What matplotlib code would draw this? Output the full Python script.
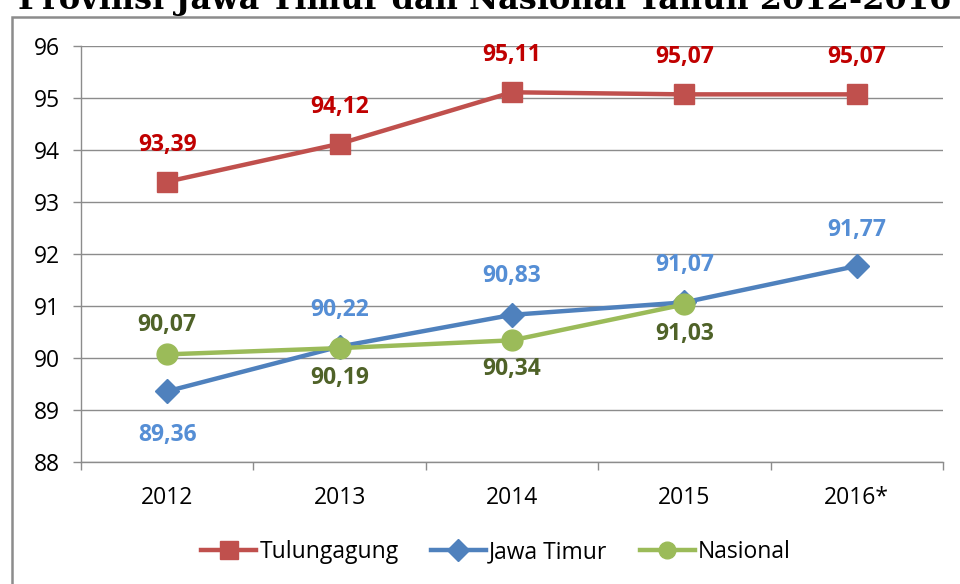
import matplotlib.pyplot as plt
from matplotlib.lines import Line2D
from matplotlib.patches import Rectangle

years = ['2012', '2013', '2014', '2015', '2016*']
tulungagung = [93.39, 94.12, 95.11, 95.07, 95.07]
jawa_timur = [89.36, 90.22, 90.83, 91.07, 91.77]
nasional = [90.07, 90.19, 90.34, 91.03]

tul_lbl = ['93,39', '94,12', '95,11', '95,07', '95,07']
jt_lbl = ['89,36', '90,22', '90,83', '91,07', '91,77']
nas_lbl = ['90,07', '90,19', '90,34', '91,03']

plt.rcParams['font.family'] = ['Open Sans', 'DejaVu Sans']

W, H = 960, 584
fig = plt.figure(figsize=(9.6, 5.84), dpi=100)
ax = fig.add_axes([81 / W, 1 - 462 / H, (943 - 81) / W, (462 - 46) / H])

# chart box border (partly off-canvas)
fig.patches.append(Rectangle((12 / W, -0.1), 1.2, 1.1 - 17 / H, transform=fig.transFigure,
                             fill=False, edgecolor='#8c8c8c', linewidth=1.8))

fig.text(485 / W, 1 - 9 / H, 'Provinsi Jawa Timur dan Nasional Tahun 2012-2016',
         ha='center', va='baseline', fontsize=23, fontweight='bold', family='DejaVu Serif')

x = list(range(len(years)))
ax.plot(x, tulungagung, color='#C0504D', lw=3.2, marker='s', ms=14,
        label='Tulungagung', zorder=3)
ax.plot(x, jawa_timur, color='#4F81BD', lw=3.2, marker='D', ms=12,
        label='Jawa Timur', zorder=4)
ax.plot(x[:len(nasional)], nasional, color='#9BBB59', lw=3.2, marker='o', ms=15,
        label='Nasional', zorder=5)

lab_kw = dict(textcoords='offset pixels', ha='center', va='center',
              fontsize=16.5, fontweight='bold')
for i, v in enumerate(tulungagung):
    ax.annotate(tul_lbl[i], (i, v), xytext=(0, 37), color='#C00000', **lab_kw)
jt_off = [-44, 37, 39, 37, 36]
for i, v in enumerate(jawa_timur):
    ax.annotate(jt_lbl[i], (i, v), xytext=(0, jt_off[i]), color='#558ED5', **lab_kw)
nas_off = [29, -30, -29, -30]
for i, v in enumerate(nasional):
    ax.annotate(nas_lbl[i], (i, v), xytext=(0, nas_off[i]), color='#4F6228', **lab_kw)

ax.set_xlim(-0.5, 4.5)
ax.set_ylim(88, 96)
ax.set_yticks(range(88, 97))
ax.grid(axis='y', color='#8c8c8c', lw=1)
ax.set_axisbelow(True)

ax.set_xticks([-0.5, 0.5, 1.5, 2.5, 3.5, 4.5])
ax.set_xticklabels([])
ax.set_xticks(x, minor=True)
ax.set_xticklabels(years, minor=True)
ax.tick_params(axis='x', which='major', length=6, width=1, color='#8c8c8c', direction='out')
ax.tick_params(axis='x', which='minor', length=0, pad=17, labelsize=16.5)
ax.tick_params(axis='y', length=6, width=1, color='#8c8c8c', pad=9, labelsize=16.5)

for s in ['top', 'right']:
    ax.spines[s].set_visible(False)
for s in ['left', 'bottom']:
    ax.spines[s].set_color('#8c8c8c')
    ax.spines[s].set_linewidth(1)

handles = [
    Line2D([], [], color='#C0504D', lw=3.2, marker='s', ms=13),
    Line2D([], [], color='#4F81BD', lw=3.2, marker='D', ms=11),
    Line2D([], [], color='#9BBB59', lw=3.2, marker='o', ms=12),
]
fig.legend(handles, ['Tulungagung', 'Jawa Timur', 'Nasional'], loc='center',
           bbox_to_anchor=(496 / W, 1 - 552 / H), ncol=3, frameon=False,
           fontsize=16.5, handlelength=2.4, handletextpad=0.15, columnspacing=1.4)

fig.savefig('out.png', dpi=100)
